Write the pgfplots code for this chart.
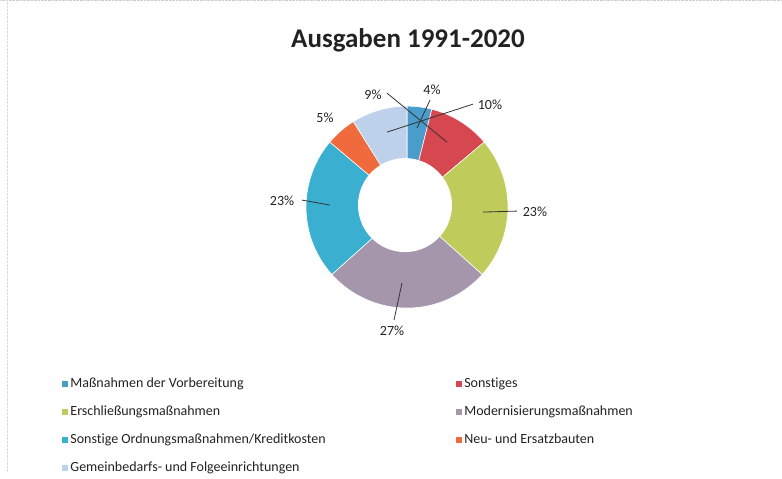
\documentclass[border=0pt]{standalone}
\usepackage{fontspec}
\setmainfont{Carlito}[Ligatures=NoCommon]
\usepackage{pgfplots}
\pgfplotsset{compat=1.18}
\definecolor{c1}{HTML}{4A9CCB}
\definecolor{c2}{HTML}{D6474F}
\definecolor{c3}{HTML}{BFCB5A}
\definecolor{c4}{HTML}{A696AC}
\definecolor{c5}{HTML}{3AAFD0}
\definecolor{c6}{HTML}{EF6A3C}
\definecolor{c7}{HTML}{BDD1EA}
\definecolor{txt}{HTML}{222222}
% slice: #1 cumulative start (sum of previous values), #2 value, #3 colour
\newcommand\slice[3]{%
  \pgfmathsetmacro\sa{#1/101*360}%
  \pgfmathsetmacro\sbb{(#1+#2)/101*360}%
  \addplot[fill=#3, draw=white, line width=0.6pt, domain=\sa:\sbb, samples=60, variable=\t]
    ({407+101*sin(\t)},{212-101*cos(\t)}) -- (axis cs:407,212) -- cycle;
}
\begin{document}
\begin{tikzpicture}
\begin{axis}[
  width=782bp, height=477bp, scale only axis,
  xmin=0, xmax=782, ymin=0, ymax=477, y dir=reverse,
  hide axis, clip=false,
  legend columns=2,
  legend image code/.code={\fill[#1] (0bp,-3.5bp) rectangle (7bp,3.5bp);},
  legend style={at={(axis cs:58,378)}, anchor=north west, draw=none, fill=none,
    font=\fontsize{14bp}{16bp}\selectfont, text=txt,
    cells={anchor=west},
    nodes={inner xsep=1.5bp, inner ysep=2bp, text height=10bp, text depth=3bp},
    row sep=11bp,
    /tikz/every even column/.append style={column sep=128bp}},
]
\slice{0}{4}{c1}
\addlegendentry{Maßnahmen der Vorbereitung}
\slice{4}{10}{c2}
\addlegendentry{Sonstiges}
\slice{14}{23}{c3}
\addlegendentry{Erschließungsmaßnahmen}
\slice{37}{27}{c4}
\addlegendentry{Modernisierungsmaßnahmen}
\slice{64}{23}{c5}
\addlegendentry{Sonstige Ordnungsmaßnahmen/Kreditkosten}
\slice{87}{5}{c6}
\addlegendentry{Neu- und Ersatzbauten}
\slice{92}{9}{c7}
\addlegendentry{Gemeinbedarfs- und Folgeeinrichtungen}
% hole
\addplot[forget plot, fill=white, draw=none, domain=0:360, samples=90, variable=\t]
  ({405+47*sin(\t)},{210-47*cos(\t)}) -- cycle;
% leader lines
\begin{scope}[black!80, line width=0.8pt]
\draw (axis cs:430,105) -- (axis cs:417,133);
\draw (axis cs:387,98) -- (axis cs:447,147);
\draw (axis cs:473,109) -- (axis cs:387,137);
\draw (axis cs:302,205) -- (axis cs:330,210);
\draw (axis cs:517,216) -- (axis cs:483,217);
\draw (axis cs:394,325) -- (axis cs:402,288);
\end{scope}
% labels
\begin{scope}[every node/.style={font=\fontsize{14bp}{16bp}\selectfont, text=txt}]
\node at (axis cs:432,95) {4\%};
\node at (axis cs:373,100) {9\%};
\node at (axis cs:490,110) {10\%};
\node at (axis cs:325,123) {5\%};
\node at (axis cs:282,206) {23\%};
\node at (axis cs:535,217) {23\%};
\node at (axis cs:392,336) {27\%};
\end{scope}
% title
\node[font=\fontsize{27bp}{31bp}\selectfont\bfseries, text=txt] at (axis cs:408,45) {Ausgaben 1991-2020};
% faint frame
\draw[black!20, densely dotted] (axis cs:0,5) -- (axis cs:782,5);
\draw[black!15, densely dotted] (axis cs:7,5) -- (axis cs:7,477);
\end{axis}
\end{tikzpicture}
\end{document}
